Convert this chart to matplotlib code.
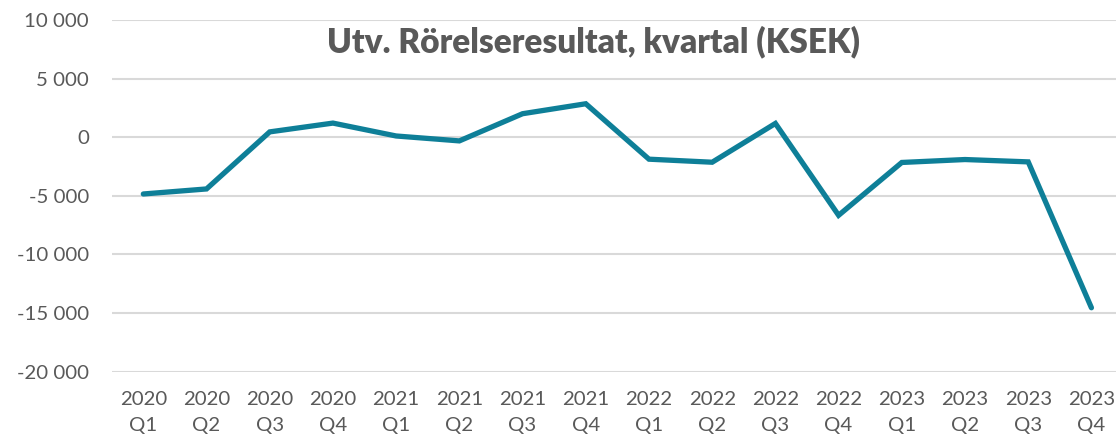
import matplotlib
matplotlib.use('Agg')
import matplotlib.pyplot as plt
from matplotlib.ticker import FuncFormatter

# Quarterly operating result (KSEK)
quarters = ['2020\nQ1', '2020\nQ2', '2020\nQ3', '2020\nQ4',
            '2021\nQ1', '2021\nQ2', '2021\nQ3', '2021\nQ4',
            '2022\nQ1', '2022\nQ2', '2022\nQ3', '2022\nQ4',
            '2023\nQ1', '2023\nQ2', '2023\nQ3', '2023\nQ4']
result = [-4850, -4420, 450, 1200,
          100, -320, 2000, 2850,
          -1880, -2140, 1170, -6670,
          -2160, -1910, -2110, -14560]
yticks = [-20000, -15000, -10000, -5000, 0, 5000, 10000]

plt.rcParams['font.family'] = ['Lato', 'DejaVu Sans']
grey = '#595959'

fig = plt.figure(figsize=(11.16, 4.42), dpi=100)
ax = fig.add_axes([0.1001, 0.1595, 0.9062, 0.7953])

ax.plot(range(len(result)), result, color='#0E7F98', linewidth=3.8,
        solid_joinstyle='miter', solid_capstyle='round', zorder=3)

ax.set_xlim(-0.5, len(result) - 0.5)
ax.set_ylim(-20000, 10000)
ax.set_yticks(yticks)
ax.yaxis.set_major_formatter(FuncFormatter(lambda v, p: f'{int(v):,}'.replace(',', ' ')))
ax.set_xticks(range(len(quarters)))
ax.set_xticklabels(quarters, linespacing=1.65)

ax.grid(axis='y', color='#D9D9D9', linewidth=1.5)
ax.set_axisbelow(True)
for s in ax.spines.values():
    s.set_visible(False)
ax.tick_params(axis='both', length=0, labelsize=14.7, colors=grey)
ax.tick_params(axis='y', pad=16.5)
ax.tick_params(axis='x', pad=14)

fig.text(0.532, 0.905, 'Utv. Rörelseresultat, kvartal (KSEK)', ha='center', va='center',
         fontsize=24, fontweight='heavy', color=grey)

fig.savefig('out.png', dpi=100)
